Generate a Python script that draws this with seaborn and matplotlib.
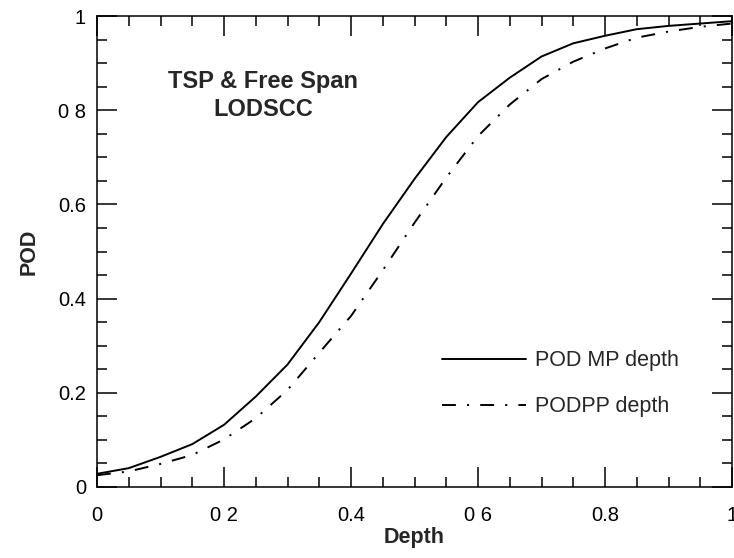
import matplotlib
matplotlib.use("Agg")
import matplotlib.pyplot as plt
import seaborn as sns
import pandas as pd

# Flaw depth (fraction of wall) and probability-of-detection curves
depth = [0.00, 0.05, 0.10, 0.15, 0.20, 0.25, 0.30, 0.35, 0.40, 0.45, 0.50,
         0.55, 0.60, 0.65, 0.70, 0.75, 0.80, 0.85, 0.90, 0.95, 1.00]
pod_mp = [0.028, 0.040, 0.064, 0.091, 0.132, 0.192, 0.260, 0.350, 0.453, 0.558, 0.654,
          0.743, 0.817, 0.869, 0.914, 0.942, 0.958, 0.972, 0.979, 0.984, 0.989]
podpp = [0.025, 0.033, 0.049, 0.068, 0.101, 0.146, 0.206, 0.285, 0.363, 0.460, 0.561,
         0.657, 0.745, 0.812, 0.866, 0.903, 0.931, 0.954, 0.967, 0.977, 0.984]
series_names = ["POD MP depth", "PODPP depth"]

x_ticks = [0, 0.2, 0.4, 0.6, 0.8, 1.0]
x_tick_labels = ["0", "0 2", "0.4", "0 6", "0.8", "1"]
y_ticks = [0, 0.2, 0.4, 0.6, 0.8, 1.0]
y_tick_labels = ["0", "0.2", "0.4", "0.6", "0 8", "1"]

sns.set_theme(style="ticks")
plt.rcParams["font.family"] = ["Liberation Sans", "DejaVu Sans"]
plt.rcParams["lines.scale_dashes"] = False

df = pd.DataFrame({
    "Depth": depth * 2,
    "POD": pod_mp + podpp,
    "series": [series_names[0]] * len(depth) + [series_names[1]] * len(depth),
})

fig = plt.figure(figsize=(7.34, 5.58), dpi=100)
ax = fig.add_axes([97 / 734, 71 / 558, 635 / 734, 471 / 558])

sns.lineplot(
    data=df, x="Depth", y="POD", style="series", style_order=series_names,
    dashes={series_names[0]: "", series_names[1]: (10, 8, 1.5, 8)},
    color="black", linewidth=1.4, legend=False, ax=ax,
)

ax.set_xlim(0, 1)
ax.set_ylim(0, 1)
ax.set_xticks(x_ticks)
ax.set_xticklabels(x_tick_labels)
ax.set_yticks(y_ticks)
ax.set_yticklabels(y_tick_labels)
ax.set_xticks([v / 20 for v in range(21)], minor=True)
ax.set_yticks([v / 20 for v in range(21)], minor=True)

ax.tick_params(which="both", direction="in", top=True, right=True,
               color="black", width=1.1)
ax.tick_params(which="major", length=14.5, labelsize=14.5, labelcolor="black")
ax.tick_params(which="minor", length=7.2)
ax.tick_params(axis="x", which="major", pad=14)
ax.tick_params(axis="y", which="major", pad=8)

for spine in ax.spines.values():
    spine.set_visible(True)
    spine.set_color("black")
    spine.set_linewidth(1.1)

ax.set_xlabel("Depth", fontsize=15.5, fontweight="bold", labelpad=1)
ax.set_ylabel("POD", fontsize=15.5, fontweight="bold", labelpad=13)

ax.text(0.262, 0.831, "TSP & Free Span\nLODSCC", transform=ax.transAxes,
        ha="center", va="center", fontsize=17, fontweight="bold",
        linespacing=1.3)

ax.legend(ax.lines, series_names, loc="upper left",
          bbox_to_anchor=(0.543, 0.29), frameon=False, fontsize=15.5,
          handlelength=3.9, handletextpad=0.45, labelspacing=1.15,
          borderpad=0, borderaxespad=0)

fig.savefig("out.png", dpi=100)
